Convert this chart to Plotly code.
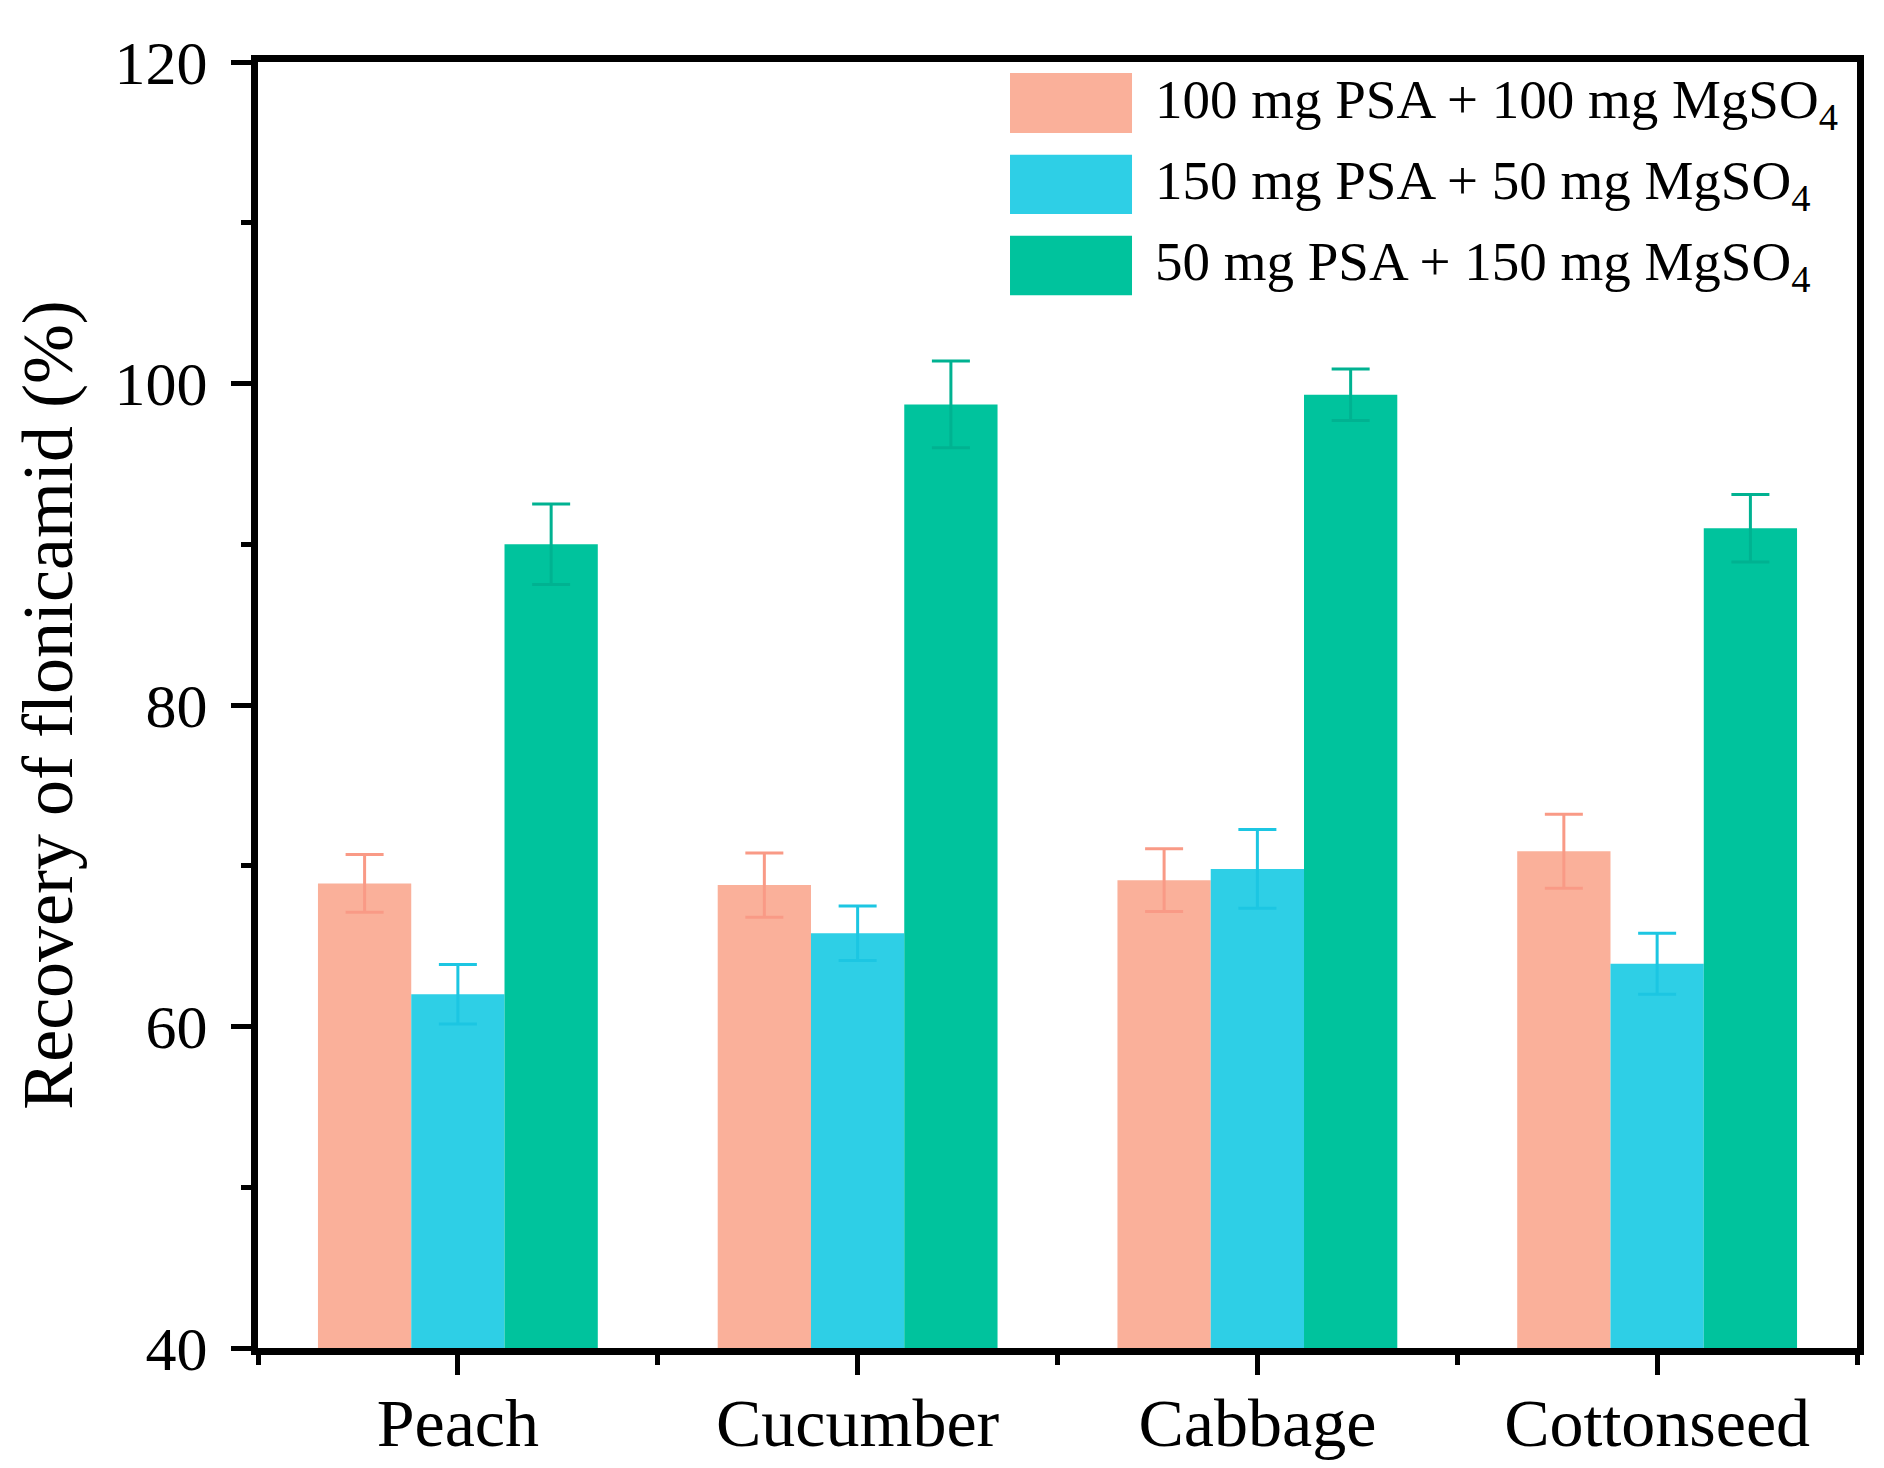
import plotly.graph_objects as go

categories = ["Peach", "Cucumber", "Cabbage", "Cottonseed"]
series_names = [
    "100 mg PSA + 100 mg MgSO<sub>4</sub>",
    "150 mg PSA + 50 mg MgSO<sub>4</sub>",
    "50 mg PSA + 150 mg MgSO<sub>4</sub>",
]
recovery_100_100 = [68.9, 68.8, 69.1, 70.9]
error_100_100 = [1.8, 2.0, 1.95, 2.3]
recovery_150_50 = [62.0, 65.8, 69.8, 63.9]
error_150_50 = [1.85, 1.7, 2.45, 1.9]
recovery_50_150 = [90.0, 98.7, 99.3, 91.0]
error_50_150 = [2.5, 2.7, 1.6, 2.1]
colors = ["#FAB09A", "#2ECFE6", "#00C39D"]
error_colors = ["#F99A86", "#1CC6E2", "#00B291"]
y_ticks = [40, 60, 80, 100, 120]

values = [recovery_100_100, recovery_150_50, recovery_50_150]
errors = [error_100_100, error_150_50, error_50_150]
x_pos = list(range(len(categories)))

FONT = "Liberation Serif, Times New Roman, serif"

fig = go.Figure()
for name, v, e, c, ec in zip(series_names, values, errors, colors, error_colors):
    fig.add_trace(go.Bar(
        x=x_pos, y=v, name=name,
        marker=dict(color=c, line=dict(width=0)),
        error_y=dict(type="data", array=e, visible=True, color=ec,
                     thickness=3, width=19),
        showlegend=False,
    ))

# custom legend (large swatches like the reference)
leg_y = [(0.9914, 0.9448), (0.9279, 0.8818), (0.8649, 0.8186)]
for (y1, y0), name, c in zip(leg_y, series_names, colors):
    fig.add_shape(type="rect", xref="paper", yref="paper",
                  x0=0.4703, x1=0.5466, y0=y0, y1=y1,
                  fillcolor=c, line=dict(width=0))
    fig.add_annotation(xref="paper", yref="paper", x=0.5597, y=(y0 + y1) / 2,
                       text=name, showarrow=False, xanchor="left",
                       yanchor="middle",
                       font=dict(family=FONT, size=55, color="black"))

fig.update_layout(
    width=1884, height=1468,
    margin=dict(l=250, r=35, t=54, b=128),
    paper_bgcolor="white", plot_bgcolor="white",
    barmode="group", bargap=0.30, bargroupgap=0,
    font=dict(family=FONT, color="black"),
)
fig.update_xaxes(
    range=[-0.5, len(categories) - 0.5],
    tickvals=x_pos, ticktext=categories,
    tickfont=dict(family=FONT, size=68, color="black"),
    ticks="outside", ticklen=20, tickwidth=5, tickcolor="black",
    minor=dict(dtick=1, tick0=0.5, ticks="outside", ticklen=10,
               tickwidth=5, tickcolor="black"),
    showline=True, linewidth=7, linecolor="black", mirror=True,
    showgrid=False, zeroline=False, ticklabelstandoff=-11,
)
fig.update_yaxes(
    range=[40, 120], tickvals=y_ticks,
    tickfont=dict(family=FONT, size=62, color="black"),
    ticks="outside", ticklen=20, tickwidth=5, tickcolor="black",
    minor=dict(dtick=10, ticks="outside", ticklen=10, tickwidth=5,
               tickcolor="black"),
    showline=True, linewidth=7, linecolor="black", mirror=True,
    showgrid=False, zeroline=False, ticklabelstandoff=11,
    title=dict(text="Recovery of flonicamid (%)",
               font=dict(family=FONT, size=72, color="black"), standoff=22),
)

fig.write_html("out.html")
